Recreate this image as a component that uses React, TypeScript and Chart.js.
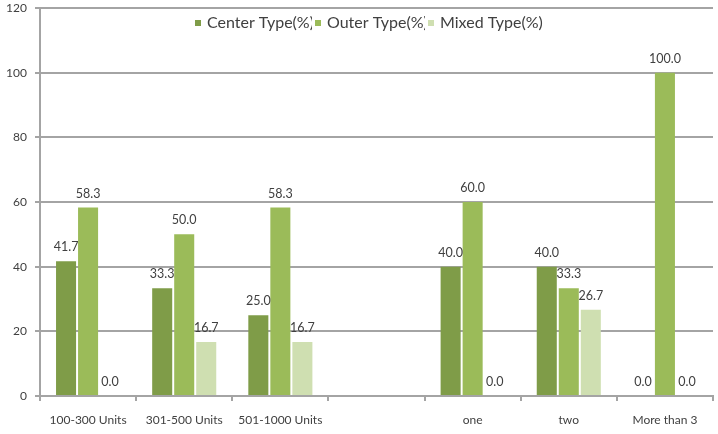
import React, { useEffect, useRef } from "react";
import { Chart, registerables } from "chart.js";

Chart.register(...registerables);

// Chart values
const categories = ["100-300 Units", "301-500 Units", "501-1000 Units", "", "one", "two", "More than 3"];
const seriesLabels = ["Center Type(%)", "Outer Type(%)", "Mixed Type(%)"];
const centerType: (number | null)[] = [41.7, 33.3, 25.0, null, 40.0, 40.0, 0.0];
const outerType: (number | null)[] = [58.3, 50.0, 58.3, null, 60.0, 33.3, 100.0];
const mixedType: (number | null)[] = [0.0, 16.7, 16.7, null, 0.0, 26.7, 0.0];
const yMax = 120;
const yStep = 20;

const seriesColors = ["#7f9c48", "#9bbb59", "#cfdfb1"];
const gridColor = "#a4a4a4";
const textColor = "#404040";
const fontFamily = "Lato, 'Open Sans', sans-serif";

// Value labels above each bar
const valueLabels = {
  id: "valueLabels",
  afterDatasetsDraw(chart: any) {
    const ctx = chart.ctx;
    ctx.save();
    ctx.font = `12.5px ${fontFamily}`;
    ctx.fillStyle = textColor;
    ctx.textAlign = "center";
    ctx.textBaseline = "middle";
    chart.data.datasets.forEach((ds: any, i: number) => {
      const meta = chart.getDatasetMeta(i);
      meta.data.forEach((el: any, j: number) => {
        const v = ds.data[j];
        if (v == null) return;
        ctx.fillText(Number(v).toFixed(1), el.x, el.y - 14);
      });
    });
    ctx.restore();
  },
};

// Compact legend drawn inside the top of the plot area
const insetLegend = {
  id: "insetLegend",
  afterDraw(chart: any) {
    const ctx = chart.ctx;
    const xs = [195, 315, 428];
    const y = 23;
    ctx.save();
    ctx.font = `16px ${fontFamily}`;
    ctx.textBaseline = "middle";
    ctx.textAlign = "left";
    chart.data.datasets.forEach((ds: any, i: number) => {
      const x = xs[i];
      ctx.save();
      if (i < xs.length - 1) {
        ctx.beginPath();
        ctx.rect(x, 0, xs[i + 1] - x - 3, 60);
        ctx.clip();
      }
      ctx.fillStyle = textColor;
      ctx.fillText(ds.label, x + 12, y);
      ctx.restore();
      ctx.fillStyle = ds.backgroundColor;
      ctx.fillRect(x, y - 3, 6, 6);
    });
    ctx.restore();
  },
};

export default function App() {
  const canvasRef = useRef<HTMLCanvasElement | null>(null);

  useEffect(() => {
    if (!canvasRef.current) return;
    const chart = new Chart(canvasRef.current, {
      type: "bar",
      data: {
        labels: categories,
        datasets: [
          { label: seriesLabels[0], data: centerType, backgroundColor: seriesColors[0] },
          { label: seriesLabels[1], data: outerType, backgroundColor: seriesColors[1] },
          { label: seriesLabels[2], data: mixedType, backgroundColor: seriesColors[2] },
        ],
      },
      options: {
        responsive: false,
        animation: false,
        datasets: {
          bar: { categoryPercentage: 0.687, barPercentage: 0.91 },
        },
        layout: { padding: { top: 8, right: 5, left: 0, bottom: 0 } },
        plugins: {
          legend: { display: false },
          tooltip: { enabled: false },
        },
        scales: {
          x: {
            grid: {
              display: true,
              offset: true,
              drawOnChartArea: false,
              drawTicks: true,
              tickLength: 5,
              color: gridColor,
              lineWidth: 2,
            },
            border: { display: true, color: gridColor, width: 2 },
            ticks: {
              color: textColor,
              font: { family: fontFamily, size: 12 },
              padding: 12,
              maxRotation: 0,
              autoSkip: false,
            },
            afterFit(scale: any) {
              scale.height = 38;
              scale.paddingLeft = 0;
              scale.paddingRight = 0;
            },
          },
          y: {
            min: 0,
            max: yMax,
            grid: {
              color: gridColor,
              lineWidth: 2,
              drawTicks: true,
              tickLength: 5,
            },
            border: { display: true, color: gridColor, width: 2 },
            ticks: {
              stepSize: yStep,
              color: textColor,
              font: { family: fontFamily, size: 12 },
              padding: 8,
            },
            afterFit(scale: any) {
              scale.width = 40;
              scale.paddingTop = 0;
              scale.paddingBottom = 0;
            },
          },
        },
      },
      plugins: [valueLabels, insetLegend],
    });
    return () => chart.destroy();
  }, []);

  return (
    <div style={{ position: "absolute", left: 0, top: 0, width: 718, height: 434, background: "#fff" }}>
      <canvas ref={canvasRef} width={718} height={434} />
    </div>
  );
}
